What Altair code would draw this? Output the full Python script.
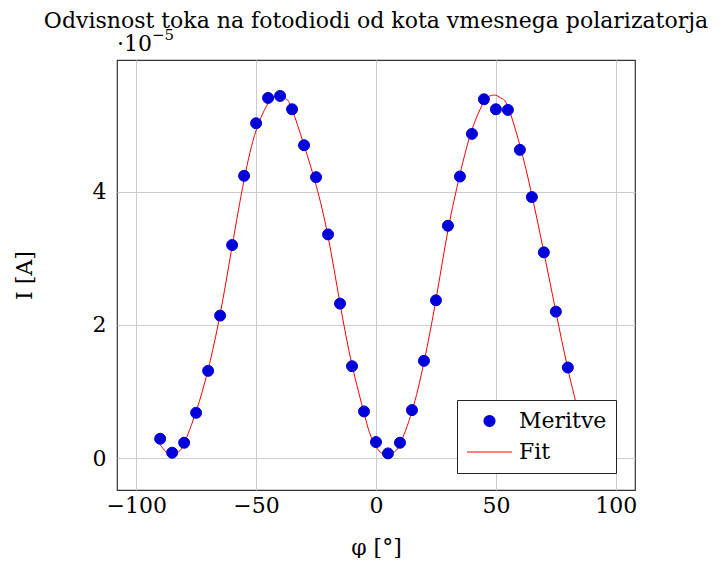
import altair as alt
import pandas as pd

# Measurements (phi in degrees, I in units of 1e-5 A)
angles = [-90, -85, -80, -75, -70, -65, -60, -55, -50, -45, -40, -35, -30, -25, -20,
          -15, -10, -5, 0, 5, 10, 15, 20, 25, 30, 35, 40, 45, 50, 55, 60, 65, 70, 75,
          80, 85, 90]
current = [0.29, 0.08, 0.23, 0.68, 1.31, 2.14, 3.20, 4.24, 5.03, 5.41, 5.44, 5.24,
           4.70, 4.22, 3.36, 2.32, 1.38, 0.70, 0.24, 0.07, 0.23, 0.72, 1.46, 2.37,
           3.49, 4.23, 4.87, 5.39, 5.24, 5.23, 4.63, 3.92, 3.09, 2.20, 1.36, 0.70,
           0.25]

# Fit curve
fit_angles = [-90, -87.5, -85, -82.5, -80, -75, -70, -65, -60, -55, -50, -45, -42.5,
              -40, -37.5, -35, -30, -25, -20, -15, -10, -5, -2.5, 0, 2.5, 5, 7.5, 10,
              15, 20, 25, 30, 35, 40, 45, 47.5, 50, 52.5, 55, 60, 65, 70, 75, 80, 85,
              87.5, 90]
fit_current = [0.20, 0.09, 0.05, 0.09, 0.22, 0.70, 1.33, 2.16, 3.18, 4.18, 4.92,
               5.33, 5.43, 5.45, 5.40, 5.24, 4.70, 4.10, 3.33, 2.32, 1.40, 0.68,
               0.36, 0.17, 0.07, 0.05, 0.09, 0.21, 0.70, 1.44, 2.38, 3.42, 4.26,
               4.93, 5.35, 5.44, 5.45, 5.40, 5.28, 4.70, 3.95, 3.09, 2.20, 1.34,
               0.62, 0.40, 0.22]

series = ["Meritve", "Fit"]

pts = pd.DataFrame({"phi": angles, "I": current, "series": series[0]})
fit = pd.DataFrame({"phi": fit_angles, "I": fit_current, "series": series[1]})

FONT = "DejaVu Serif"
BLUE = "#0000d8"
RED = "#ff0000"

x_scale = alt.Scale(domain=[-108, 108], nice=False, zero=False)
y_scale = alt.Scale(domain=[-0.48, 5.98], nice=False, zero=False)

x_axis = alt.Axis(values=[-100, -50, 0, 50, 100], title="φ [°]", labelPadding=5,
                  titlePadding=21)
y_axis = alt.Axis(values=[0, 2, 4], title="I [A]", labelPadding=11, titlePadding=56)

legend = alt.Legend(title=None, orient="none", legendX=340, legendY=340,
                    fillColor="white", strokeColor="#222222", padding=9,
                    labelFont=FONT, labelFontSize=22, labelColor="black",
                    symbolStrokeWidth=1.2, rowPadding=7, labelOffset=6, clipHeight=24)

stroke_scale = alt.Scale(domain=series, range=[BLUE, RED])
fill_scale = alt.Scale(domain=series, range=[BLUE, "transparent"])
shape_scale = alt.Scale(domain=series, range=["circle", "stroke"])
size_scale = alt.Scale(domain=series, range=[121, 2025])

base_x = alt.X("phi:Q", scale=x_scale, axis=x_axis)
base_y = alt.Y("I:Q", scale=y_scale, axis=y_axis)

line = alt.Chart(fit).mark_line(strokeWidth=1, interpolate="natural").encode(
    x=base_x, y=base_y,
    stroke=alt.Stroke("series:N", scale=stroke_scale, legend=legend),
)

points = alt.Chart(pts).mark_point(filled=True, opacity=1, strokeWidth=1).encode(
    x=base_x, y=base_y,
    stroke=alt.Stroke("series:N", scale=stroke_scale, legend=legend),
    fill=alt.Fill("series:N", scale=fill_scale, legend=legend),
    shape=alt.Shape("series:N", scale=shape_scale, legend=legend),
    size=alt.Size("series:N", scale=size_scale, legend=legend),
)

exp_base = alt.Chart(pd.DataFrame({"t": ["·10"]})).mark_text(
    align="left", baseline="alphabetic", font=FONT, fontSize=22, color="black"
).encode(x=alt.value(0), y=alt.value(-9), text="t:N")

exp_sup = alt.Chart(pd.DataFrame({"t": ["−5"]})).mark_text(
    align="left", baseline="alphabetic", font=FONT, fontSize=15, color="black"
).encode(x=alt.value(35), y=alt.value(-20), text="t:N")

chart = alt.layer(line, points, exp_base, exp_sup).properties(
    width=518, height=430,
    padding={"left": 5, "top": 2, "right": 5, "bottom": 0},
    title=alt.TitleParams("Odvisnost toka na fotodiodi od kota vmesnega polarizatorja",
                          font=FONT, fontSize=22, fontWeight="normal", color="black",
                          offset=-5, anchor="middle"),
).configure_view(stroke="#333333", strokeWidth=1.2).configure_axis(
    labelFont=FONT, labelFontSize=22, labelColor="black", titleFont=FONT,
    titleFontSize=22, titleFontWeight="normal", titleColor="black",
    gridColor="#cccccc", gridWidth=1, domain=False, ticks=False,
)

chart.save("out.html", embed_options={"renderer": "svg", "actions": False})
